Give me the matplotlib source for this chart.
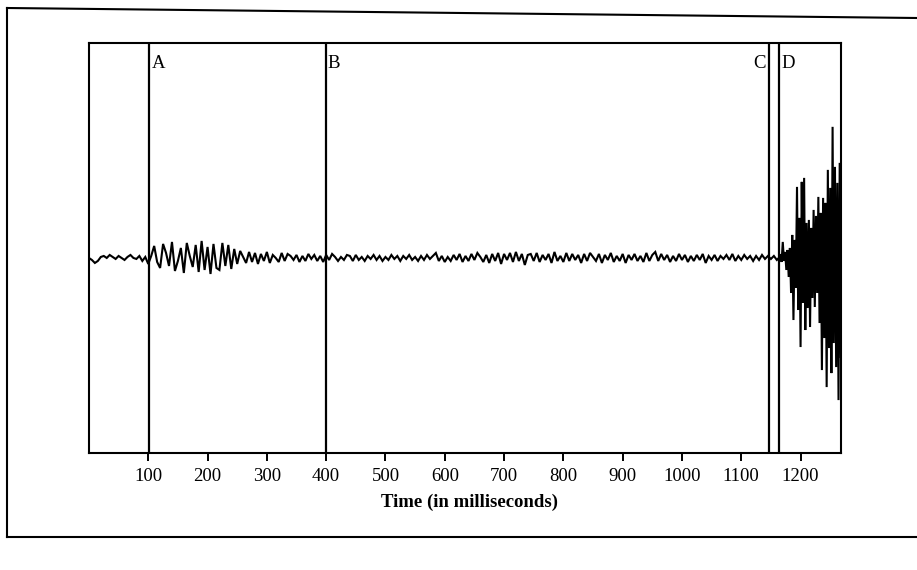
import numpy as np
import matplotlib.pyplot as plt
from matplotlib.lines import Line2D

# Recorded waveform, read off the scan (amplitude in arbitrary units, 0 = resting level)
# quiet part: one sample every 5 ms from 0 ms
QUIET_AMP = [
    0, -2, -5, -3, 1, 2, 0, 3, 1, -1, 2, 0, -2, 1, 3, 0, -1, 2, -3, 1,
    -6, 2, 12, -4, -10, 14, 5, -8, 16, -13, -3, 10, -15, 15, 2, -9, 13, -14, 17, -12,
    11, -16, 14, -10, -12, 15, -8, 13, -11, 9, -6, 7, 1, -5, 6, -4, 5, -6, 4, -3,
    6, -5, 3, 0, -4, 5, -3, 4, 2, -2, 3, -4, 2, -3, 4, -1, 3, -3, 2, -4,
    3, -2, 4, 1, -3, 1, -2, 3, 2, -3, 3, -2, 1, -3, 2, -1, 3, -2, 2, -3,
    1, -2, 3, -1, 2, -3, 2, -1, 3, -2, 1, -3, 2, -2, 3, -1, 2, 5, -3, 2,
    -4, 1, -3, 3, -2, 4, -4, 2, -3, 4, -2, 5, 1, -4, 3, -5, 4, -3, 5, -6,
    4, -2, 5, -4, 6, -3, 4, -7, 3, 4, -3, 5, -4, 3, -2, 4, -5, 6, -3, 2,
    -4, 5, -3, 4, -2, 3, -5, 4, -3, 5, 1, -3, 4, -5, 3, -2, 5, -4, 2, -3,
    4, -5, 3, -2, 4, -3, 2, -4, 5, -3, 3, 6, -3, 4, -2, 3, -4, 2, -3, 4,
    -2, 3, -4, 2, -3, 3, -2, 4, -5, 2, -2, 3, -3, 2, -1, 3, -2, 4, -3, 2,
    -2, 3, -1, 2, -3, 2, -2, 3, -1, 2, -1, 2, -2, 1, -1, 2, -1, 1, -2, 1,
    0, 2, -1,
]
QUIET_START, QUIET_STEP = 0, 5

# final burst after marker D: one sample every 2 ms from 1166 ms
BURST_AMP = [
    3, -4, 16, -3, 6, -12, 8, -19, 10, -35, 23, -62, 18, -30, 71, -52,
    40, -89, 76, -45, 80, -72, 35, -50, 38, -69, 30, -40, 48, -49, 42, -35,
    61, -65, 45, -112, 60, -80, 55, -129, 88, -90, 70, -115, 131, -85, 91,
    -109, 75, -142, 95, -100, 60,
]
BURST_START, BURST_STEP = 1166, 2

MARKERS = ["A", "B", "C", "D"]
MARKER_MS = [102, 399, 1147, 1164]

TICKS = [100, 200, 300, 400, 500, 600, 700, 800, 900, 1000, 1100, 1200]

SERIF = "Liberation Serif"


def main():
    quiet_t = QUIET_START + QUIET_STEP * np.arange(len(QUIET_AMP))
    burst_t = BURST_START + BURST_STEP * np.arange(len(BURST_AMP))
    t = np.concatenate([quiet_t, burst_t])
    amp = np.concatenate([QUIET_AMP, BURST_AMP])

    fig = plt.figure(figsize=(9.17, 5.70), dpi=100, facecolor="white")
    ax = fig.add_axes([0.097, 0.205, 0.820, 0.720])

    ax.plot(t, amp, color="black", lw=1.5, solid_joinstyle="miter")

    # event markers
    for name, ms in zip(MARKERS, MARKER_MS):
        ax.axvline(ms, color="black", lw=1.6)
        if name == "C":
            ax.text(ms - 5, 194, name, ha="right", va="center",
                    family=SERIF, fontsize=13.5)
        else:
            ax.text(ms + 4, 194, name, ha="left", va="center",
                    family=SERIF, fontsize=13.5)

    ax.set_xlim(0, 1268)
    ax.set_ylim(-195, 215)
    ax.set_yticks([])
    ax.set_xticks(TICKS)
    ax.set_xticklabels([str(v) for v in TICKS], family=SERIF, fontsize=13.5)
    ax.tick_params(axis="x", direction="out", length=6, width=1.4, pad=5)
    for sp in ax.spines.values():
        sp.set_linewidth(1.5)

    fig.text(470 / 917, 1 - 502 / 570, "Time (in milliseconds)", ha="center",
             va="center", family=SERIF, fontsize=13.5, fontweight="bold")

    # outer frame of the scanned page
    fig.add_artist(Line2D([7 / 917, 7 / 917], [1 - 8 / 570, 1 - 537 / 570],
                          transform=fig.transFigure, color="black", lw=1.5))
    fig.add_artist(Line2D([7 / 917, 1.0], [1 - 8 / 570, 1 - 18 / 570],
                          transform=fig.transFigure, color="black", lw=1.5))
    fig.add_artist(Line2D([7 / 917, 1.0], [1 - 537 / 570, 1 - 537 / 570],
                          transform=fig.transFigure, color="black", lw=1.5))

    fig.savefig("out.png", dpi=100, facecolor="white")


if __name__ == "__main__":
    main()
